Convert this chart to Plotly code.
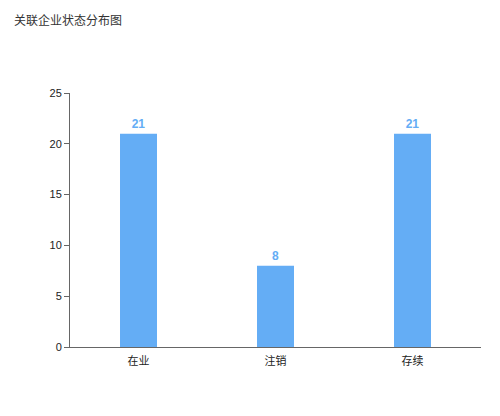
import plotly.graph_objects as go

categories = ["在业", "注销", "存续"]
counts = [21, 8, 21]
y_ticks = [0, 5, 10, 15, 20, 25]

BAR_COLOR = "#64adf5"
FONT = "Liberation Sans, Noto Sans CJK SC"

fig = go.Figure(
    go.Bar(
        x=categories,
        y=counts,
        marker=dict(color=BAR_COLOR, line=dict(width=0)),
        text=counts,
        textposition="outside",
        textfont=dict(color=BAR_COLOR, size=12, family=FONT, weight="bold"),
        cliponaxis=False,
    )
)

# page body adds an 8px offset, so margins are shifted to compensate
fig.update_layout(
    width=500,
    height=416,
    paper_bgcolor="white",
    plot_bgcolor="white",
    margin=dict(l=62, r=27, t=85, b=77),
    bargap=0.73,
    showlegend=False,
    font=dict(family=FONT, size=11, color="#333"),
    title=dict(
        text="关联企业状态分布图",
        x=6 / 500, xref="container", xanchor="left",
        y=1, yref="container", yanchor="top",
        pad=dict(t=9),
        font=dict(size=12, color="#333", family="Noto Sans CJK SC"),
    ),
)
fig.update_xaxes(
    showline=True, linecolor="#666", linewidth=1,
    ticks="", showgrid=False, zeroline=False,
    ticklabelstandoff=4,
    tickfont=dict(size=11, color="#222"),
)
fig.update_yaxes(
    range=[0, 25], tickvals=y_ticks,
    showline=True, linecolor="#666", linewidth=1,
    ticks="outside", ticklen=5, tickcolor="#666",
    showgrid=False, zeroline=False,
    tickfont=dict(size=11, color="#222"),
)

fig.write_html("out.html")
